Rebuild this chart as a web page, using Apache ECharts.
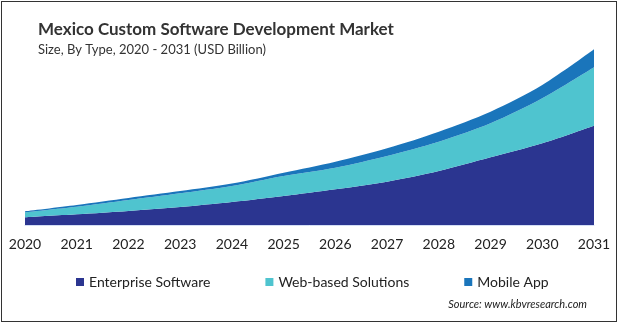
<!DOCTYPE html>
<html><head><meta charset="utf-8">
<script src="https://cdn.jsdelivr.net/npm/echarts@6/dist/echarts.min.js"></script>
<style>
html,body{margin:0;padding:0;background:#fff;}
#c{width:614px;height:319px;border:1px solid #333;margin:1px 0 0 1px;}
</style></head>
<body><div id="c"></div>
<script>
const years = ['2020','2021','2022','2023','2024','2025','2026','2027','2028','2029','2030','2031'];
const enterprise = [0.77,1.07,1.40,1.80,2.30,2.90,3.57,4.33,5.40,6.77,8.17,9.93];
const webBased = [0.50,0.76,1.10,1.37,1.60,2.00,2.16,2.57,2.93,3.40,4.50,5.84];
const mobileApp = [0.10,0.17,0.20,0.22,0.24,0.33,0.60,0.77,1.00,1.16,1.33,1.80];
const names = ['Enterprise Software','Web-based Solutions','Mobile App'];
const colors = ['#2B3590','#4FC4CF','#1A75BB'];

const chart = echarts.init(document.getElementById('c'));
const font = 'Lato, sans-serif';
function area(name, data, color){
  return {name, type:'line', stack:'total', data, smooth:0.3, symbol:'none',
    lineStyle:{width:0}, areaStyle:{color, opacity:1}, itemStyle:{color}};
}
chart.setOption({
  animation:false,
  title:{text:'Mexico Custom Software Development Market',
    subtext:'Size, By Type, 2020 - 2031 (USD Billion)',
    left:31, top:14, itemGap:5,
    textStyle:{fontFamily:font, fontSize:17, fontWeight:'bold', color:'#333'},
    subtextStyle:{fontFamily:font, fontSize:13, color:'#333'}},
  legend:{data:names, left:69, top:268, itemWidth:8, itemHeight:8, itemGap:55, icon:'rect',
    textStyle:{fontFamily:font, fontSize:14, color:'#222', padding:[0,0,0,0]}},
  grid:{left:23, right:22, top:43, bottom:96},
  xAxis:{type:'category', data:years, boundaryGap:false,
    axisLine:{lineStyle:{color:'#d3def5', width:1}}, axisTick:{show:false},
    axisLabel:{fontFamily:font, fontSize:14, color:'#222', margin:12}},
  yAxis:{type:'value', min:0, max:18, show:false, splitLine:{show:false}},
  series:[area(names[0], enterprise, colors[0]), area(names[1], webBased, colors[1]), area(names[2], mobileApp, colors[2])],
  graphic:[{type:'text', right:29, top:297, style:{text:'Source: www.kbvresearch.com', font:'italic 11px Lato, sans-serif', fill:'#222'}}]
});
</script></body></html>
